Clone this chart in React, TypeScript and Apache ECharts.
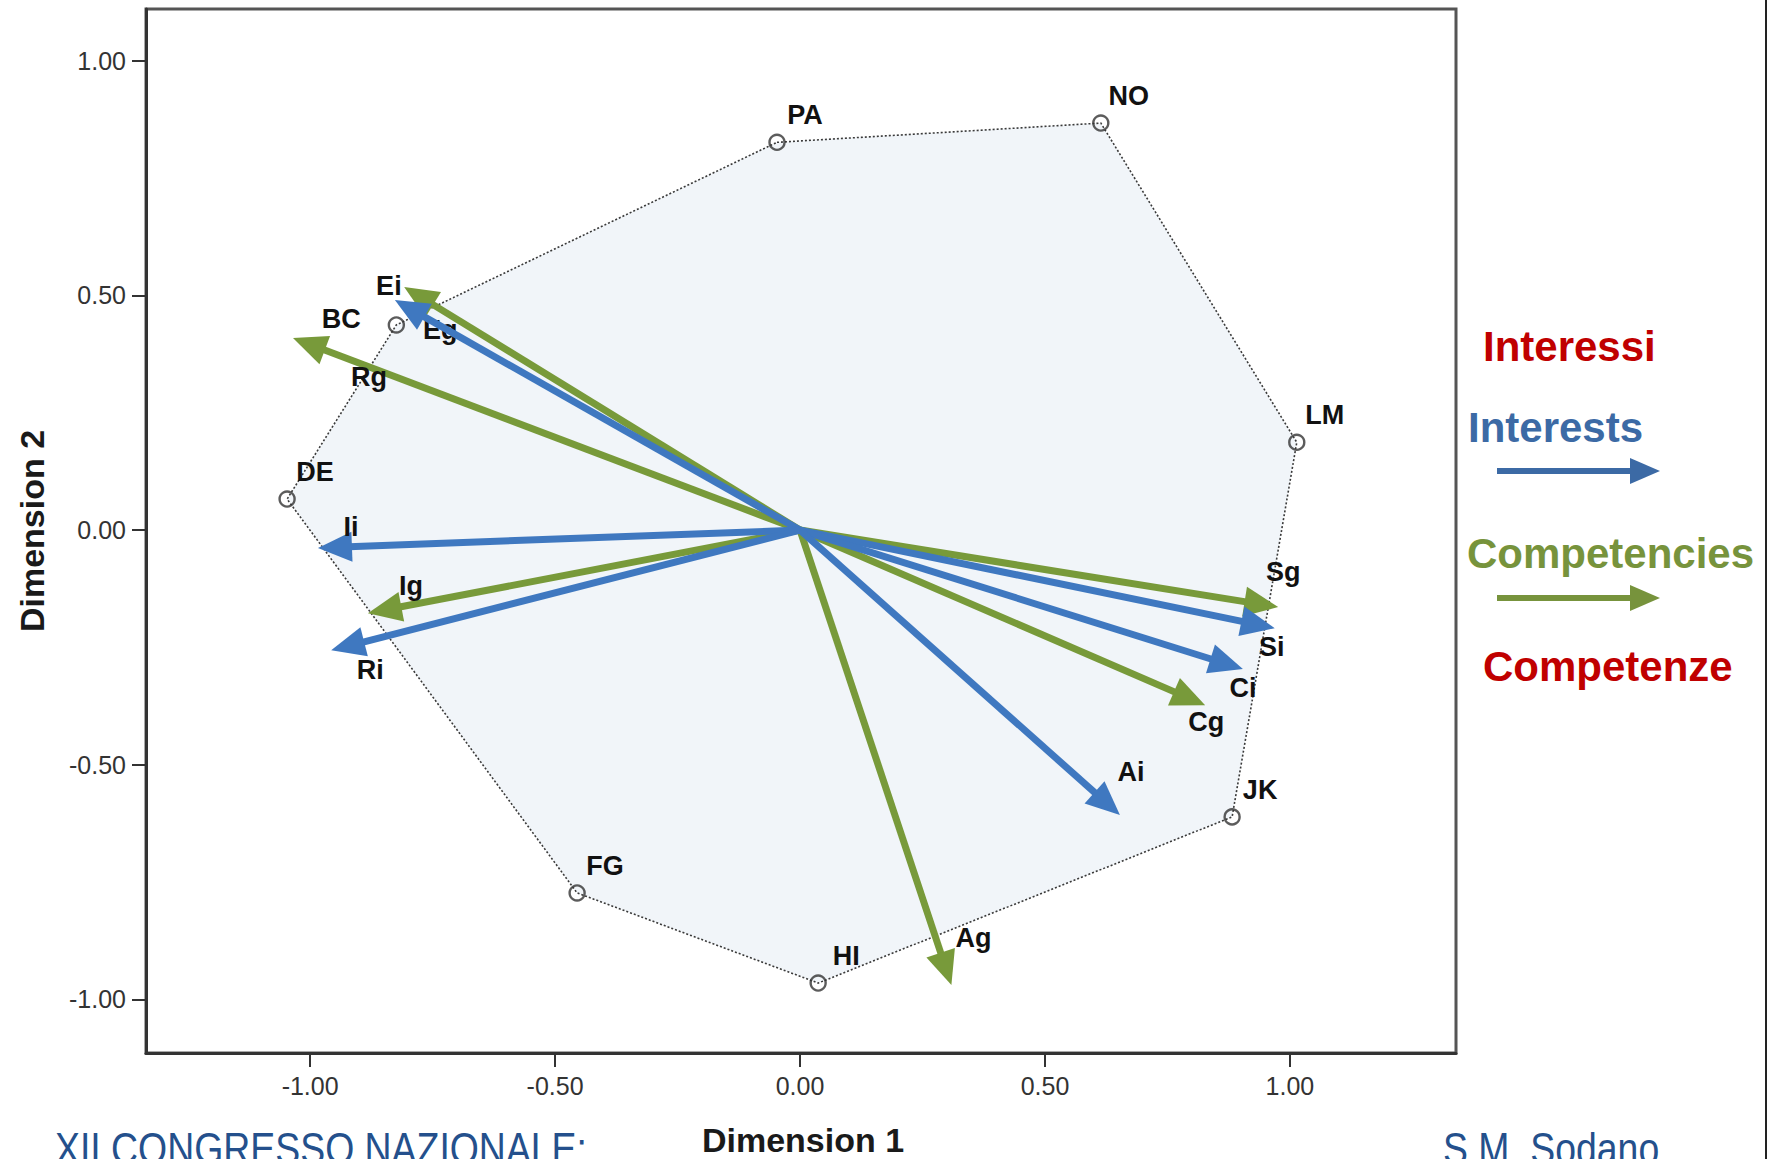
import React, { useEffect, useRef } from "react";
import * as echarts from "echarts";

// ---------- data ----------
const pointNames = ["PA", "NO", "LM", "JK", "HI", "FG", "DE", "BC"];
const pointX = [-0.047, 0.614, 1.014, 0.882, 0.037, -0.455, -1.047, -0.824];
const pointY = [0.826, 0.867, 0.187, -0.611, -0.965, -0.773, 0.066, 0.437];

const interestNames = ["Ei", "Ii", "Ri", "Si", "Ci", "Ai"];
const interestX = [-0.827, -0.984, -0.957, 0.969, 0.904, 0.653];
const interestY = [0.49, -0.038, -0.256, -0.209, -0.296, -0.607];

const competencyNames = ["Eg", "Rg", "Ig", "Sg", "Cg", "Ag"];
const competencyX = [-0.808, -1.035, -0.882, 0.976, 0.827, 0.309];
const competencyY = [0.518, 0.409, -0.177, -0.164, -0.373, -0.969];

const xTickValues = [-1, -0.5, 0, 0.5, 1];
const yTickValues = [-1, -0.5, 0, 0.5, 1];

const xAxisTitle = "Dimension 1";
const yAxisTitle = "Dimension 2";
const legendTexts = ["Interessi", "Interests", "Competencies", "Competenze"];
const footerLeft = "XII CONGRESSO NAZIONALE:";
const footerRight = "S.M. Sodano";

// ---------- styles (label offsets in px) ----------
const pointLabelOffset: Record<string, number[]> = { BC: [-55, -6] };
const defaultPointOffset = [28, -27];
const arrowLabelOffset: Record<string, number[]> = {
  Ei: [-6, -14], Ii: [33, -21], Ri: [39, 20], Si: [-3, 19], Ci: [0, 19], Ai: [11, -43],
  Eg: [36, 43], Rg: [76, 39], Ig: [43, -27], Sg: [5, -35], Cg: [1, 17], Ag: [22, -47],
};

const BLUE = "#3f78c0";
const GREEN = "#789a3a";
const LABEL_FONT = 'bold 27px "Liberation Sans", Arial, sans-serif';

function arrowSeries(names: string[], xs: number[], ys: number[], color: string, z: number) {
  return {
    type: "custom",
    coordinateSystem: "cartesian2d",
    silent: true,
    z,
    data: xs.map((x, i) => [x, ys[i]]),
    renderItem: (params: any, api: any) => {
      const o = api.coord([0, 0]);
      const t = api.coord([api.value(0), api.value(1)]);
      const dx = t[0] - o[0];
      const dy = t[1] - o[1];
      const len = Math.hypot(dx, dy);
      const ux = dx / len;
      const uy = dy / len;
      const hl = 34;
      const hw = 15;
      const bx = t[0] - ux * hl;
      const by = t[1] - uy * hl;
      const px = -uy;
      const py = ux;
      const name = names[params.dataIndex];
      const off = arrowLabelOffset[name] || [0, 0];
      return {
        type: "group",
        children: [
          {
            type: "line",
            shape: { x1: o[0], y1: o[1], x2: bx + ux * 3, y2: by + uy * 3 },
            style: { stroke: color, lineWidth: 7 },
          },
          {
            type: "polygon",
            shape: { points: [[t[0], t[1]], [bx + px * hw, by + py * hw], [bx - px * hw, by - py * hw]] },
            style: { fill: color },
          },
          {
            type: "text",
            x: t[0] + off[0],
            y: t[1] + off[1],
            style: { text: name, fill: "#111", font: LABEL_FONT, align: "center", verticalAlign: "middle" },
          },
        ],
      };
    },
  };
}

function legendArrow(y: number, color: string) {
  return [
    { type: "line", shape: { x1: 1497, y1: y, x2: 1634, y2: y }, style: { stroke: color, lineWidth: 6 } },
    { type: "polygon", shape: { points: [[1660, y], [1630, y - 13], [1630, y + 13]] }, style: { fill: color } },
  ];
}

export default function App() {
  const ref = useRef<HTMLDivElement>(null);
  useEffect(() => {
    if (!ref.current) return;
    const chart = echarts.init(ref.current, undefined, { renderer: "svg" });
    const polyData = pointX.map((x, i) => [x, pointY[i]]);
    const option: any = {
      animation: false,
      backgroundColor: "#ffffff",
      grid: {
        left: 146,
        right: 318,
        top: 9,
        bottom: 106,
        show: true,
        borderColor: "#555",
        borderWidth: 3,
        backgroundColor: "#ffffff",
      },
      xAxis: {
        type: "value",
        min: -1.335,
        max: 1.339,
        axisLine: { onZero: false, lineStyle: { color: "#333", width: 3 } },
        axisTick: { customValues: xTickValues, length: 14, lineStyle: { color: "#333", width: 2 } },
        axisLabel: {
          customValues: xTickValues,
          formatter: (v: number) => v.toFixed(2),
          color: "#333",
          fontSize: 25,
          fontFamily: '"Liberation Sans", Arial, sans-serif',
          margin: 20,
        },
        splitLine: { show: false },
      },
      yAxis: {
        type: "value",
        min: -1.114,
        max: 1.11,
        axisLine: { onZero: false, lineStyle: { color: "#333", width: 3 } },
        axisTick: { customValues: yTickValues, length: 14, lineStyle: { color: "#333", width: 2 } },
        axisLabel: {
          customValues: yTickValues,
          formatter: (v: number) => v.toFixed(2),
          color: "#333",
          fontSize: 25,
          fontFamily: '"Liberation Sans", Arial, sans-serif',
          margin: 20,
        },
        splitLine: { show: false },
      },
      series: [
        {
          type: "custom",
          coordinateSystem: "cartesian2d",
          silent: true,
          z: 1,
          data: polyData,
          renderItem: (params: any, api: any) => {
            if (params.dataIndex !== 0) return null;
            const pts = polyData.map((p) => api.coord(p));
            return {
              type: "polygon",
              shape: { points: pts },
              style: { fill: "#f1f5f9", stroke: "#3a3a3a", lineWidth: 1.6, lineDash: [2, 2] },
            };
          },
        },
        {
          type: "scatter",
          z: 3,
          silent: true,
          symbol: "circle",
          symbolSize: 15,
          itemStyle: { color: "rgba(255,255,255,0)", borderColor: "#333", borderWidth: 2.4 },
          data: pointNames.map((n, i) => ({ name: n, value: [pointX[i], pointY[i]] })),
        },
        {
          type: "custom",
          coordinateSystem: "cartesian2d",
          silent: true,
          z: 6,
          data: pointNames.map((n, i) => [pointX[i], pointY[i]]),
          renderItem: (params: any, api: any) => {
            const c = api.coord([api.value(0), api.value(1)]);
            const name = pointNames[params.dataIndex];
            const off = pointLabelOffset[name] || defaultPointOffset;
            return {
              type: "text",
              x: c[0] + off[0],
              y: c[1] + off[1],
              style: { text: name, fill: "#111", font: LABEL_FONT, align: "center", verticalAlign: "middle" },
            };
          },
        },
        arrowSeries(competencyNames, competencyX, competencyY, GREEN, 4),
        arrowSeries(interestNames, interestX, interestY, BLUE, 5),
      ],
      graphic: [
        {
          type: "text",
          x: 803,
          y: 1140,
          style: {
            text: xAxisTitle,
            font: 'bold 34px "Liberation Sans", Arial, sans-serif',
            fill: "#1a1a1a",
            align: "center",
            verticalAlign: "middle",
          },
        },
        {
          type: "text",
          x: 32,
          y: 531,
          rotation: Math.PI / 2,
          style: {
            text: yAxisTitle,
            font: 'bold 34px "Liberation Sans", Arial, sans-serif',
            fill: "#1a1a1a",
            align: "center",
            verticalAlign: "middle",
          },
        },
        {
          type: "text", x: 1483, y: 346,
          style: { text: legendTexts[0], font: 'bold 42px "Liberation Sans", Arial, sans-serif', fill: "#c00000", align: "left", verticalAlign: "middle" },
        },
        {
          type: "text", x: 1468, y: 427,
          style: { text: legendTexts[1], font: 'bold 42px "Liberation Sans", Arial, sans-serif', fill: "#3c6aa5", align: "left", verticalAlign: "middle" },
        },
        ...legendArrow(471, "#3c6aa5"),
        {
          type: "text", x: 1467, y: 553,
          style: { text: legendTexts[2], font: 'bold 42px "Liberation Sans", Arial, sans-serif', fill: "#77933c", align: "left", verticalAlign: "middle" },
        },
        ...legendArrow(598, "#77933c"),
        {
          type: "text", x: 1483, y: 666,
          style: { text: legendTexts[3], font: 'bold 42px "Liberation Sans", Arial, sans-serif', fill: "#c00000", align: "left", verticalAlign: "middle" },
        },
        {
          type: "text", x: 55, y: 1127, scaleX: 0.85,
          style: { text: footerLeft, font: '44px "Liberation Sans", Arial, sans-serif', fill: "#24508c", align: "left", verticalAlign: "top" },
        },
        {
          type: "text", x: 1443, y: 1127, scaleX: 0.85,
          style: { text: footerRight, font: '44px "Liberation Sans", Arial, sans-serif', fill: "#24508c", align: "left", verticalAlign: "top" },
        },
        {
          type: "line",
          shape: { x1: 1766, y1: 0, x2: 1766, y2: 1159 },
          style: { stroke: "#222", lineWidth: 2 },
        },
      ],
    };
    chart.setOption(option);
    return () => chart.dispose();
  }, []);
  return (
    <div
      ref={ref}
      style={{ position: "absolute", left: 0, top: 0, width: 1774, height: 1159, background: "#fff" }}
    />
  );
}
